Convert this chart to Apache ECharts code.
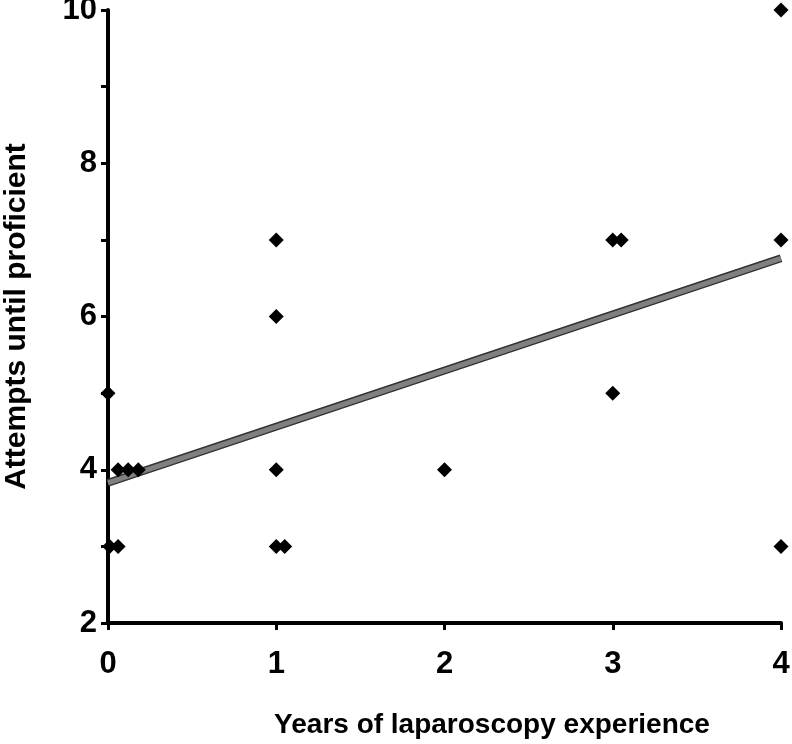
<!DOCTYPE html>
<html><head><meta charset="utf-8">
<script src="https://cdn.jsdelivr.net/npm/echarts@6/dist/echarts.min.js"></script>
<style>html,body{margin:0;padding:0;background:#fff}#c{width:792px;height:744px}</style>
</head><body><div id="c"></div>
<script>
const xName = 'Years of laparoscopy experience';
const yName = 'Attempts until proficient';
const years = [0, 0.01, 0.06, 0.06, 0.12, 0.18, 1, 1, 1, 1, 1.05, 2, 3, 3.05, 3, 4, 4, 4];
const attempts = [5, 3, 3, 4, 4, 4, 7, 6, 4, 3, 3, 4, 7, 7, 5, 10, 7, 3];
const trendX = [0, 4];
const trendY = [3.83, 6.76];
const xTicks = [0, 1, 2, 3, 4];
const yTicks = [2, 4, 6, 8, 10];

const font = '"Liberation Sans", Arial, sans-serif';
const chart = echarts.init(document.getElementById('c'));
chart.setOption({
  animation: false,
  grid: {left: 108, right: 11, top: 10, bottom: 121, outerBoundsMode: 'none', containLabel: false},
  xAxis: {
    type: 'value', min: 0, max: 4, interval: 1,
    name: xName, nameLocation: 'middle', nameGap: 88,
    nameTextStyle: {fontFamily: font, fontWeight: 'bold', fontSize: 28, color: '#000', padding: [0, 0, 0, 95]},
    axisLine: {lineStyle: {color: '#000', width: 4}},
    axisTick: {show: true, inside: false, length: 7, lineStyle: {color: '#000', width: 3}},
    axisLabel: {fontFamily: font, fontWeight: 'bold', fontSize: 31, color: '#000', margin: 26,
      formatter: v => xTicks.includes(v) ? String(v) : ''},
    splitLine: {show: false}
  },
  yAxis: {
    type: 'value', min: 2, max: 10, interval: 1,
    name: yName, nameLocation: 'middle', nameGap: 76,
    nameTextStyle: {fontFamily: font, fontWeight: 'bold', fontSize: 30, color: '#000'},
    axisLine: {lineStyle: {color: '#000', width: 4}},
    axisTick: {show: true, inside: false, length: 7, lineStyle: {color: '#000', width: 3}},
    axisLabel: {fontFamily: font, fontWeight: 'bold', fontSize: 31, color: '#000', margin: 11,
      formatter: v => yTicks.includes(v) ? String(v) : ''},
    splitLine: {show: false}
  },
  series: [
    {type: 'line', data: trendX.map((x, i) => [x, trendY[i]]), symbol: 'none',
      lineStyle: {color: '#333', width: 8}, z: 2},
    {type: 'line', data: trendX.map((x, i) => [x, trendY[i]]), symbol: 'none',
      lineStyle: {color: '#808080', width: 5}, z: 3},
    {type: 'scatter', data: years.map((x, i) => [x, attempts[i]]), symbol: 'diamond',
      symbolSize: [15, 15], itemStyle: {color: '#000', opacity: 1}, z: 4}
  ]
});
</script></body></html>
